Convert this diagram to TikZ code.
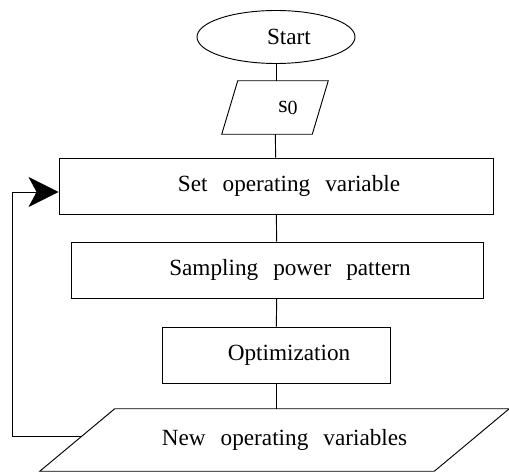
\documentclass[tikz,border=0pt]{standalone}
\usepackage{fontspec}
\setmainfont{Liberation Serif}[WordSpace=2.6]
\usetikzlibrary{shapes.geometric,arrows.meta,calc}
\tikzset{
  flowline/.style={line width=0.7pt},
  procbox/.style={draw,line width=0.7pt,minimum height=42pt,inner sep=0pt},
  iobox/.style={inner sep=0pt},
  ioline/.style={line width=0.7pt,line join=miter},
}
\newcommand{\lead}{\hspace*{19.5pt}}

\begin{document}
\begin{tikzpicture}[x=0.75pt,y=-0.75pt,font=\fontsize{17.4}{20}\selectfont]
\useasboundingbox (0,0) rectangle (509,473);
\node (start) at (276,37) [draw,ellipse,line width=0.7pt,minimum width=118.5pt,minimum height=39.75pt,inner sep=0pt] {\lead Start};
\node (szero) at (275,107.5) [iobox,minimum width=79.5pt,minimum height=39.75pt] {\lead\raisebox{-7pt}{\fontsize{18}{20}\selectfont s\raisebox{-1.5pt}{\fontsize{15}{18}\selectfont 0}}};
\node (setvar) at (276,186) [procbox,minimum width=325.5pt] {\lead Set operating variable};
\node (sample) at (277,270) [procbox,minimum width=309pt] {\lead Sampling power pattern};
\node (optim) at (276,355) [procbox,minimum width=171pt] {\lead Optimization};
\node (newvar) at (274.5,440) [iobox,minimum width=351.75pt,minimum height=46.5pt] {\hspace*{15pt}New operating variables};
% parallelograms
\draw[ioline] ([xshift=12pt]szero.north west) -- (szero.north east) -- ([xshift=-12pt]szero.south east) -- (szero.south west) -- cycle;
\draw[ioline] ([xshift=56.25pt]newvar.north west) -- (newvar.north east) -- ([xshift=-56.25pt]newvar.south east) -- (newvar.south west) -- cycle;
\coordinate (nvleft) at ($(newvar.south west)!0.55!([xshift=56.25pt]newvar.north west)$);
\coordinate (loop) at (12,437);
% main flow
\draw[flowline] (start) -- (start |- szero.north);
\draw[flowline] (szero) -- (setvar);
\draw[flowline] (setvar) -- (sample);
\draw[flowline] (sample) -- (optim);
\draw[flowline] (optim) -- (optim |- newvar.north);
% feedback
\draw[flowline,-{Stealth[length=22.5pt,width=22.5pt,inset=6pt]}] (nvleft) -- (nvleft -| loop) |- ([yshift=-4.5pt]setvar.west);
\end{tikzpicture}
\end{document}
